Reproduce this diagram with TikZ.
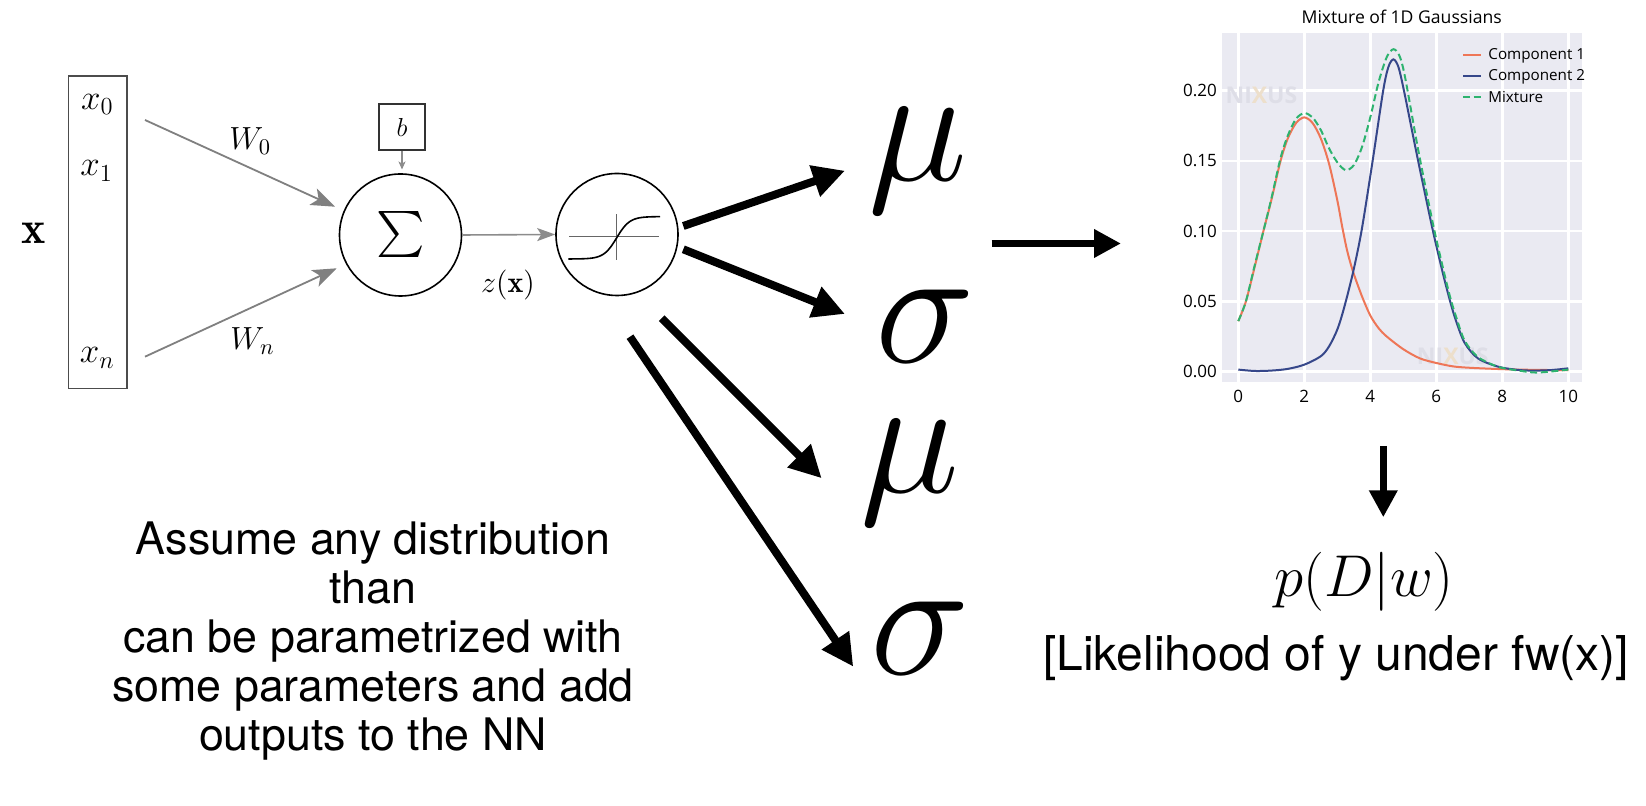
\RequirePackage{fix-cm}
\documentclass[tikz,border=0pt]{standalone}
\usepackage{graphicx}
\usepackage{fontspec}
\newfontfamily\heros{TeX Gyre Heros}
\newfontfamily\osans{Open Sans}
\usetikzlibrary{arrows.meta}
\definecolor{bgplot}{HTML}{EAEAF2}
\definecolor{compA}{HTML}{EE7657}
\definecolor{compB}{HTML}{36478A}
\definecolor{mixc}{HTML}{2DB36F}
\definecolor{wm}{HTML}{DEDEE7}
\definecolor{wmx}{HTML}{EDDFCB}
\begin{document}
\begin{tikzpicture}[x=0.5pt,y=-0.5pt,
  mathlbl/.style={inner sep=0pt, anchor=base},
  neuron/.style={circle, draw=black, line width=0.8pt, minimum size=61pt, inner sep=0pt},
  inputbox/.style={draw=black!70, line width=0.8pt, minimum width=29.2pt, minimum height=156.2pt, inner sep=0pt},
  biasbox/.style={draw=black!80, line width=0.8pt, minimum size=23pt, inner sep=0pt},
  grayarrow/.style={draw=black!50, line width=0.9pt, -{Stealth[length=12pt,width=9pt,inset=3pt]}},
  graymid/.style={draw=black!45, line width=0.8pt, -{Stealth[length=9pt,width=6.5pt,inset=2pt]}},
  graysmall/.style={draw=black!45, line width=0.6pt, -{Stealth[length=4pt,width=3.5pt,inset=1pt]}},
  thickarrow/.style={line width=4pt, -{Triangle[length=16pt,width=15.5pt]}},
  midarrow/.style={line width=3.5pt, -{Triangle[length=13.5pt,width=13.5pt]}},
  bigsym/.style={inner sep=0pt, anchor=base, font={\fontsize{84}{90}\selectfont}},
  notetext/.style={font={\heros\fontsize{22.4}{24.5}\selectfont}, align=center, inner sep=0pt},
  gridl/.style={white, line width=1.2pt},
  ticklbl/.style={font={\osans\fontsize{8.5}{10}\selectfont}, inner sep=0pt},
  legtext/.style={font={\osans\fontsize{7.6}{9}\selectfont}, inner sep=0pt, anchor=west},
  curve/.style={line width=1pt}
]
\useasboundingbox (0,0) rectangle (1646,806);
\fill[white] (0,0) rectangle (1646,806);

% ---------- neuron ----------
\node[inputbox] (inbox) at (97.5,232.2) {};
\node[mathlbl, font={\fontsize{17.5}{20}\selectfont}] (x0) at (97.3,109.5) {$x_0$};
\node[mathlbl, font={\fontsize{17.5}{20}\selectfont}] (x1) at (96.7,176) {$x_1$};
\node[mathlbl, font={\fontsize{17.5}{20}\selectfont}] (xn) at (97.3,363) {$x_n$};
\node[mathlbl, font={\fontsize{23}{26}\selectfont}] (X) at (33.3,243.3) {$\mathbf{x}$};

\node[neuron] (sum) at (400.5,235) {\scalebox{2.3}{$\sum$}};
\node[biasbox, font={\fontsize{13}{15}\selectfont}] (bias) at (402,127) {$b$};
\node[neuron] (act) at (617,234.5) {};

\node[mathlbl, font={\fontsize{16}{18}\selectfont}] (w0) at (250.3,149.5) {$W_0$};
\node[mathlbl, font={\fontsize{16}{18}\selectfont}] (wn) at (252.5,349.5) {$W_n$};
\node[mathlbl, font={\fontsize{15}{18}\selectfont}] (zx) at (508,292.5) {$z(\mathbf{x})$};

\coordinate (w0s) at (145,120);
\coordinate (w0e) at (335,206.7);
\coordinate (wns) at (145,356.7);
\coordinate (wne) at (336.7,268.3);
\coordinate (be) at (402,169.5);
\draw[grayarrow] (w0s) -- (w0e);
\draw[grayarrow] (wns) -- (wne);
\draw[graysmall] (bias.south) -- (be);
\draw[graymid] (sum.east) -- (act.west);

% sigmoid glyph
\draw[black!60, line width=0.5pt] (569.3,236.7) -- (659.3,236.7);
\draw[black!60, line width=0.5pt] (616.7,214.3) -- (616.7,260);
\draw[black, line width=0.8pt] plot[domain=568.3:660, samples=80, smooth] (\x,{237.8-21.2*tanh((\x-616.7)/13)});

% ---------- outputs ----------
\node[bigsym] (mu1) at (917.5,180.7) {$\mu$};
\node[bigsym] (sg1) at (925,363) {$\sigma$};
\node[bigsym] (mu2) at (910,492.3) {$\mu$};
\node[bigsym] (sg2) at (920.3,674.7) {$\sigma$};

\coordinate (a1s) at (683.3,226);   \coordinate (a1e) at (845,170.7);
\coordinate (a2s) at (683.3,249.3); \coordinate (a2e) at (845,314);
\coordinate (a3s) at (661.7,318.3); \coordinate (a3e) at (821.7,478.3);
\coordinate (a4s) at (630,336.7);   \coordinate (a4e) at (853.3,666.7);
\draw[thickarrow] (a1s) -- (a1e);
\draw[thickarrow] (a2s) -- (a2e);
\draw[thickarrow] (a3s) -- (a3e);
\draw[thickarrow] (a4s) -- (a4e);

\coordinate (hs) at (991.7,243.5); \coordinate (he) at (1121,243.5);
\draw[midarrow] (hs) -- (he);

% ---------- note ----------
\node[notetext] (note) at (373,641) {Assume any distribution\\than\\can be parametrized with\\some parameters and add\\outputs to the NN};

% ---------- plot ----------
\node[font={\osans\fontsize{8.8}{11}\selectfont}, inner sep=0pt] (title) at (1401.7,17) {Mixture of 1D Gaussians};
\begin{scope}[shift={(1238.3,371.7)}, x=16.5pt, y=702.5pt]
\fill[bgplot] (-0.5,-0.0071) rectangle (10.4,0.241);
\foreach \gx in {0,2,4,6,8,10} \draw[gridl] (\gx,-0.0071) -- (\gx,0.241);
\foreach \gy in {0,0.05,0.10,0.15,0.20} \draw[gridl] (-0.5,\gy) -- (10.4,\gy);
\node[ticklbl, anchor=east] (yt0) at (-0.636,0) {0.00};
\node[ticklbl, anchor=east] (yt1) at (-0.636,0.05) {0.05};
\node[ticklbl, anchor=east] (yt2) at (-0.636,0.10) {0.10};
\node[ticklbl, anchor=east] (yt3) at (-0.636,0.15) {0.15};
\node[ticklbl, anchor=east] (yt4) at (-0.636,0.20) {0.20};
\node[ticklbl] (xt0) at (0,-0.0173) {0};
\node[ticklbl] (xt1) at (2,-0.0173) {2};
\node[ticklbl] (xt2) at (4,-0.0173) {4};
\node[ticklbl] (xt3) at (6,-0.0173) {6};
\node[ticklbl] (xt4) at (8,-0.0173) {8};
\node[ticklbl] (xt5) at (10,-0.0173) {10};
\node[font={\osans\bfseries\fontsize{11.5}{13}\selectfont}, text=wm, inner sep=0pt] (wm1) at (0.7,0.1966) {NI\textcolor{wmx}{X}US};
\node[font={\osans\bfseries\fontsize{11.5}{13}\selectfont}, text=wm, inner sep=0pt] (wm2) at (6.5,0.0111) {NI\textcolor{wmx}{X}US};
\draw[compA, curve] plot[smooth, tension=0.5] coordinates {(0,0.036) (0.23,0.05) (0.5,0.075) (0.76,0.10) (1.0,0.122) (1.28,0.15) (1.5,0.166) (1.75,0.177) (2.0,0.181) (2.25,0.177) (2.5,0.166) (2.75,0.148) (3.0,0.122) (3.15,0.103) (3.3,0.086) (3.48,0.071) (3.75,0.0535) (4.0,0.040) (4.25,0.031) (4.5,0.025) (5.0,0.016) (5.5,0.0095) (6.0,0.0062) (6.5,0.0038) (7.0,0.0028) (8.0,0.0018) (9,0.0013) (10,0.0011)};
\draw[compB, curve] plot[smooth, tension=0.5] coordinates {(0,0.0015) (0.5,0.0005) (1,0.0008) (1.5,0.002) (2,0.005) (2.5,0.011) (2.75,0.018) (3.0,0.030) (3.2,0.045) (3.48,0.071) (3.74,0.101) (4.07,0.15) (4.39,0.20) (4.55,0.217) (4.7,0.2223) (4.85,0.217) (5.02,0.20) (5.45,0.15) (5.9,0.10) (6.2,0.07) (6.42,0.05) (6.6,0.036) (6.86,0.0205) (7.26,0.0095) (7.87,0.0036) (8.5,0.0012) (9,0.0008) (9.5,0.0012) (10,0.0024)};
\draw[mixc, curve, dash pattern=on 3.5pt off 1.8pt] plot[smooth, tension=0.5] coordinates {(0,0.036) (0.23,0.05) (0.5,0.076) (0.76,0.10) (1.0,0.123) (1.28,0.152) (1.5,0.168) (1.75,0.18) (2.0,0.184) (2.25,0.181) (2.5,0.172) (2.75,0.159) (3.0,0.149) (3.25,0.1435) (3.5,0.147) (3.75,0.16) (4.0,0.181) (4.25,0.206) (4.5,0.224) (4.7,0.2295) (4.88,0.225) (5.05,0.21) (5.45,0.158) (5.9,0.105) (6.2,0.074) (6.42,0.053) (6.6,0.039) (6.86,0.022) (7.26,0.0105) (7.87,0.0035) (8.5,0.0008) (9,-0.0006) (9.5,0.0002) (10,0.0015)};
\end{scope}
% legend
\draw[compA, curve] (1463,55.5) -- (1481,55.5);
\draw[compB, curve] (1463,76.5) -- (1481,76.5);
\draw[mixc, curve, dash pattern=on 3.5pt off 1.8pt] (1463,97.5) -- (1481,97.5);
\node[legtext] (l1) at (1488,55.5) {Component 1};
\node[legtext] (l2) at (1488,76.5) {Component 2};
\node[legtext] (l3) at (1488,97.5) {Mixture};

% ---------- likelihood ----------
\coordinate (ds) at (1383.3,446); \coordinate (de) at (1383.3,517.3);
\draw[midarrow] (ds) -- (de);
\node[font={\fontsize{29.5}{32}\selectfont}, inner sep=0pt] (pD) at (1364,582) {$p(D|w)$};
\node[font={\heros\fontsize{24}{27}\selectfont}, inner sep=0pt, anchor=base] (lik) at (1336,671) {[Likelihood of y under fw(x)]};
\end{tikzpicture}
\end{document}
